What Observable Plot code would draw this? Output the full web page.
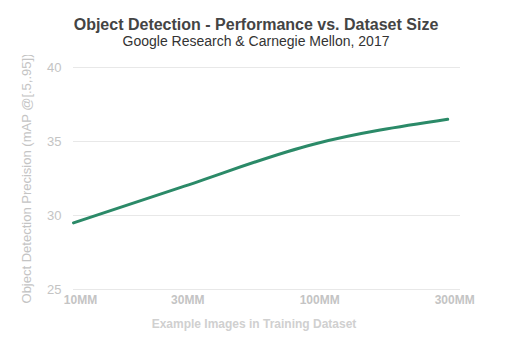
<!DOCTYPE html>
<html>
<head>
<meta charset="utf-8">
<script src="https://cdn.jsdelivr.net/npm/d3@7"></script>
<script src="https://cdn.jsdelivr.net/npm/@observablehq/plot@0.6"></script>
<style>
  body { margin: 0; background: #fff; font-family: "Liberation Sans", Arial, sans-serif; }
  #wrap { position: relative; width: 512px; height: 340px; overflow: hidden; }
  #title { position: absolute; top: 15px; left: 0; width: 512px; text-align: center; font-size: 16px; font-weight: bold; color: #444; line-height: 20px; }
  #subtitle { position: absolute; top: 33px; left: 0; width: 512px; text-align: center; font-size: 14px; color: #333; line-height: 16px; }
  #chart { position: absolute; top: 55px; left: 0; }
</style>
</head>
<body>
<div id="wrap">
  <div id="title"></div>
  <div id="subtitle"></div>
  <div id="chart"></div>
</div>
<script>
const titleText = "Object Detection - Performance vs. Dataset Size";
const subtitleText = "Google Research & Carnegie Mellon, 2017";
const xTitle = "Example Images in Training Dataset";
const yTitle = "Object Detection Precision (mAP @[.5,.95])";
const datasetSize = [10, 30, 100, 300];           // millions of images
const mAP = [29.5, 31.9, 34.8, 36.5];
const xTicks = [10, 30, 100, 300];
const yTicks = [25, 30, 35, 40];

document.getElementById("title").textContent = titleText;
document.getElementById("subtitle").textContent = subtitleText;

const data = datasetSize.map((d, i) => ({size: d, map: mAP[i]}));

const chart = Plot.plot({
  width: 512,
  height: 285,
  marginTop: 12,
  marginLeft: 73,
  marginRight: 52,
  marginBottom: 51,
  style: {fontFamily: "Liberation Sans, Arial, sans-serif", background: "transparent"},
  x: {type: "pow", exponent: 0.1, domain: [10, 331]},
  y: {domain: [25, 40]},
  marks: [
    Plot.gridY(yTicks, {stroke: "#e8e8e8", strokeOpacity: 1, strokeWidth: 1}),
    Plot.axisY(yTicks, {tickSize: 0, tickPadding: 12, fill: "#c4c4c4", fontSize: 13,
      label: yTitle, labelAnchor: "center", labelArrow: "none", labelOffset: 52, color: "#d0d0d0"}),
    Plot.axisX(xTicks, {tickSize: 0, tickPadding: 6, fill: "#c4c4c4", fontSize: 12, fontWeight: "bold",
      dx: 7, tickFormat: d => d + "MM", label: null}),
    Plot.text([xTitle], {frameAnchor: "bottom", text: d => d, dx: -13, dy: 38,
      fill: "#d0d0d0", fontSize: 12, fontWeight: "bold"}),
    Plot.line(data, {x: "size", y: "map", stroke: "#2b8a68", strokeWidth: 3, curve: "monotone-x"})
  ]
});
document.getElementById("chart").appendChild(chart);
</script>
</body>
</html>
